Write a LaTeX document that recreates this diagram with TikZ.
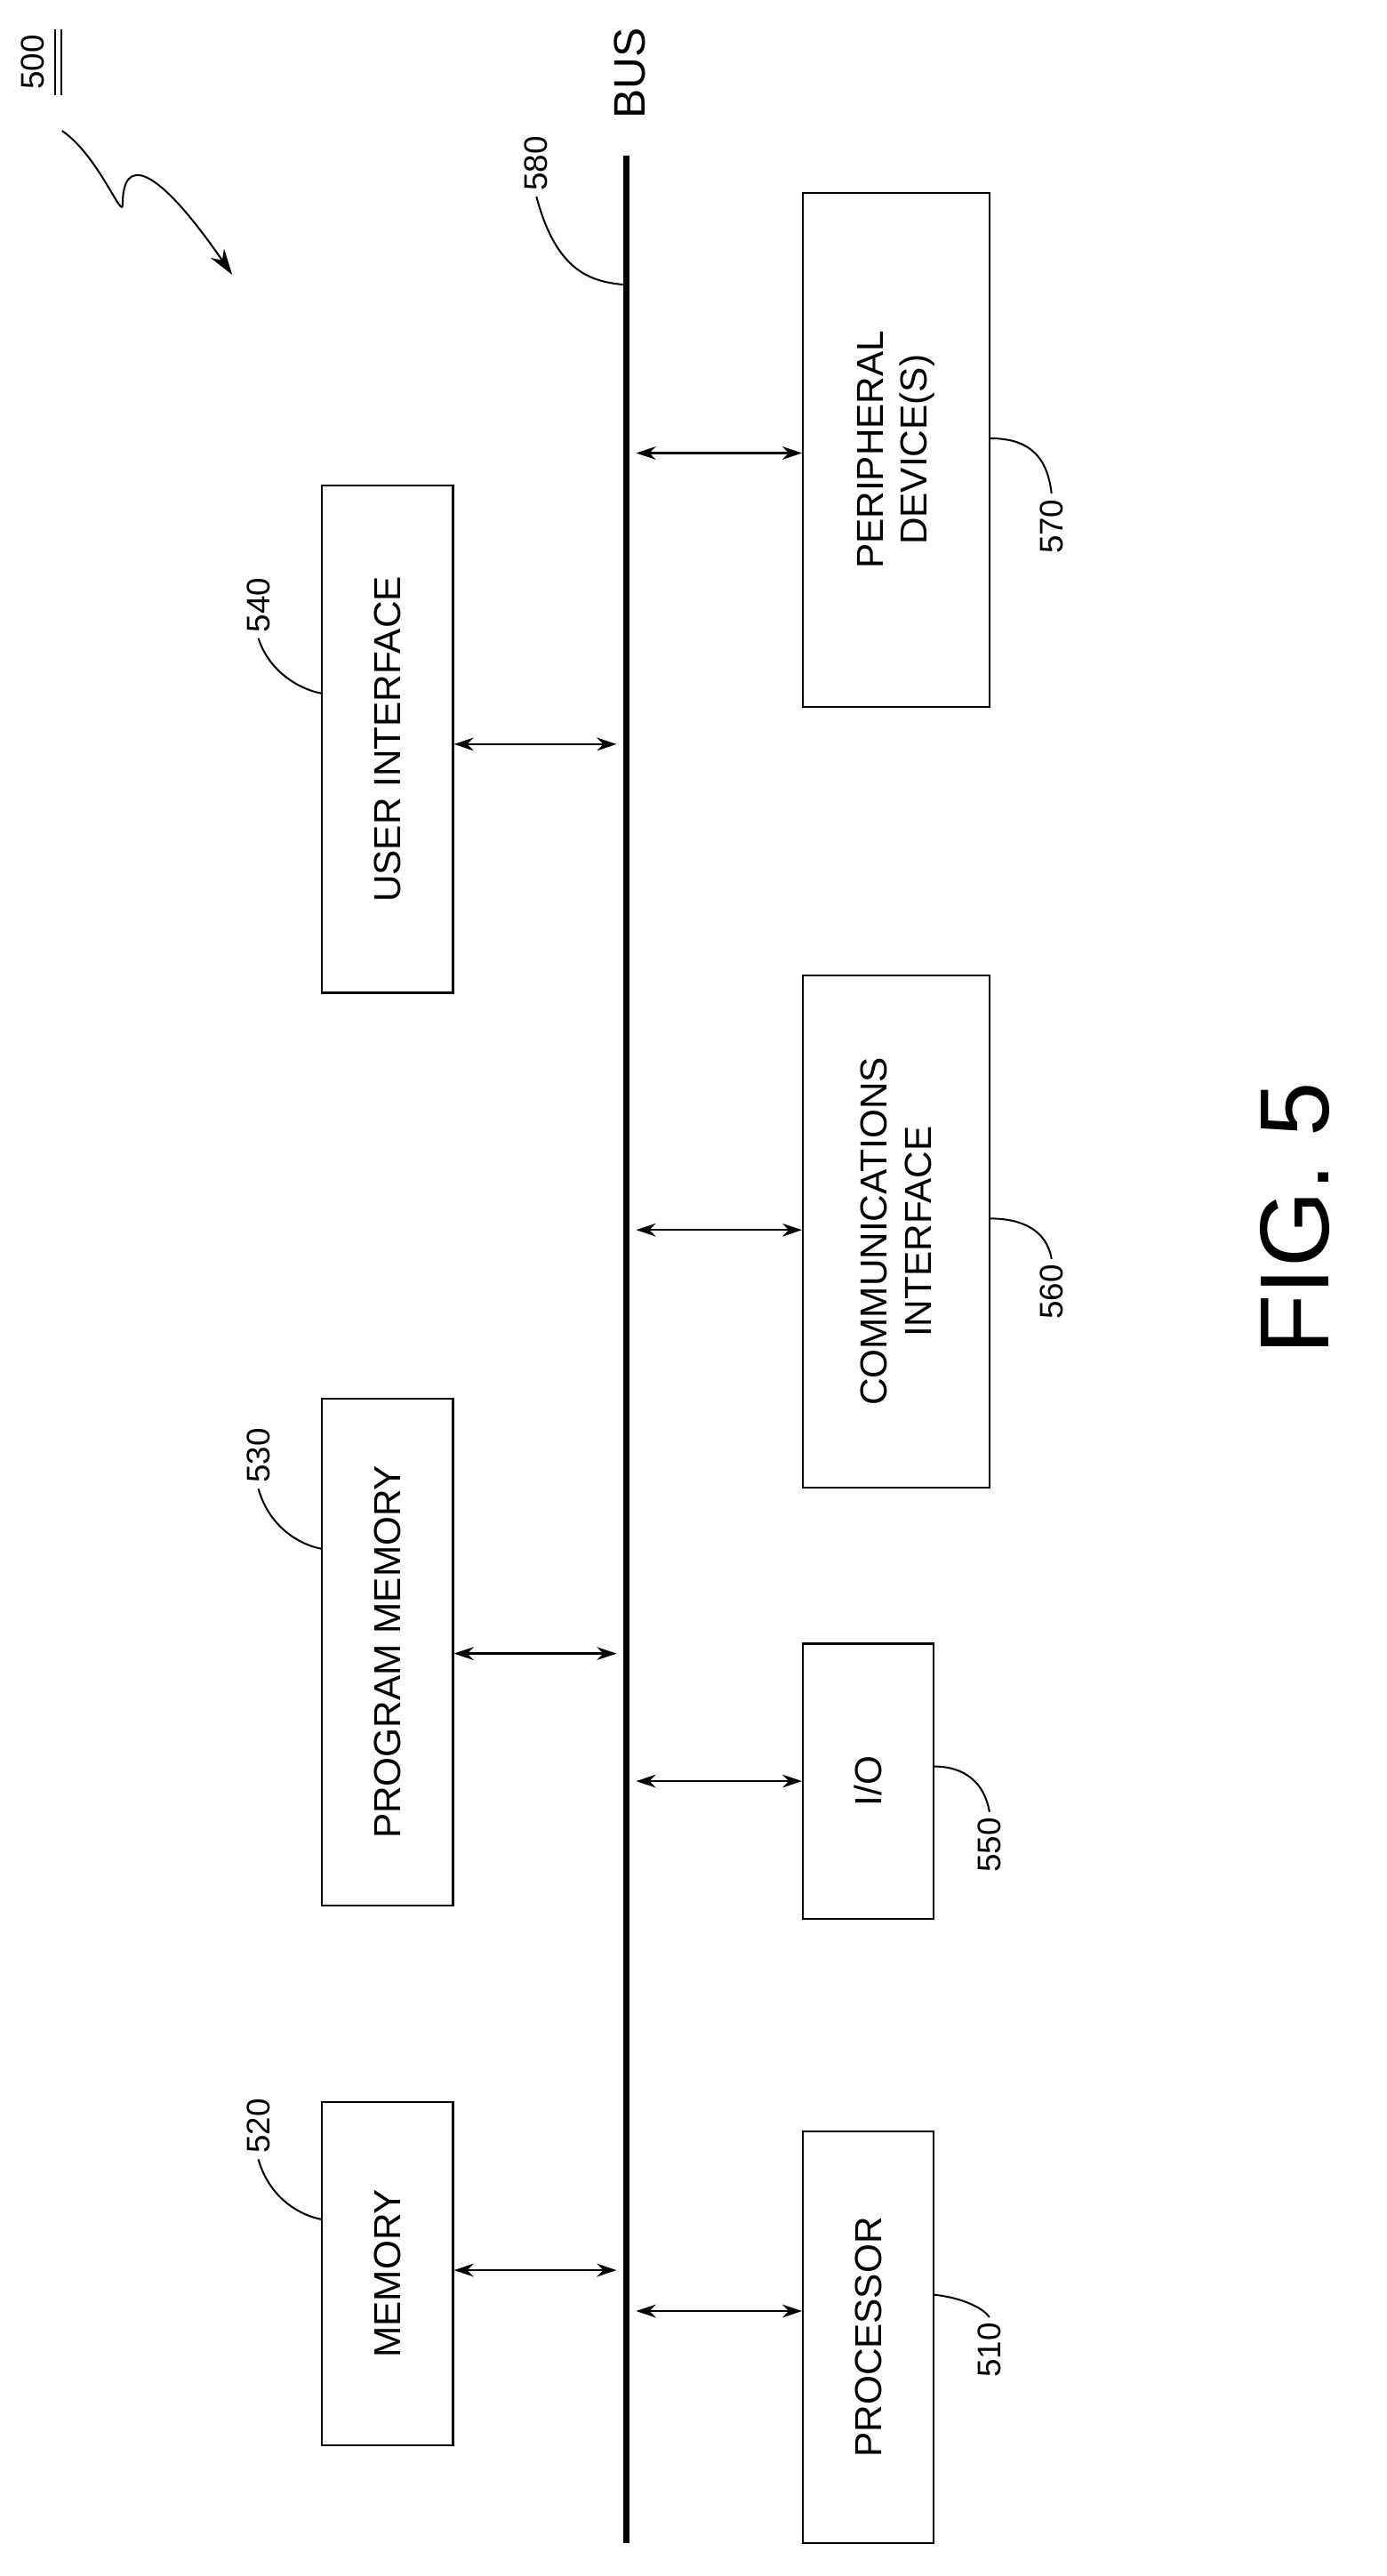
\documentclass[tikz,border=0pt]{standalone}
\usepackage{fontspec}
\setmainfont{Liberation Sans}
\usetikzlibrary{arrows.meta}
\begin{document}
\begin{tikzpicture}[x=1pt,y=-1pt,
 box/.style={draw,line width=1.2pt,inner sep=0pt},
 txt/.style={rotate=90,font=\fontsize{23}{27}\selectfont,align=center},
 num/.style={rotate=90,font=\fontsize{20}{23}\selectfont},
 arr/.style={{Stealth[length=12pt,width=8pt]}-{Stealth[length=12pt,width=8pt]},line width=1.3pt},
 lead/.style={line width=1.1pt}]
\useasboundingbox (0,0) rectangle (848,1575);
% bus
\coordinate (bt) at (383,95); \coordinate (bb) at (383,1555);
\draw[line width=3.5pt] (bt) -- (bb);
\node[rotate=90,font=\fontsize{27}{30}\selectfont,anchor=center] (bus) at (385,45) {BUS};
% boxes
\node[box,minimum width=80pt,minimum height=210pt] (mem) at (237,1390) {};
\node[txt] at (mem) {MEMORY};
\node[box,minimum width=80pt,minimum height=310pt] (pm) at (237,1010) {};
\node[txt] at (pm) {PROGRAM MEMORY};
\node[box,minimum width=80pt,minimum height=310pt] (ui) at (237,452) {};
\node[txt] at (ui) {USER INTERFACE};
\node[box,minimum width=80pt,minimum height=252pt] (proc) at (531,1429) {};
\node[txt] at (proc) {PROCESSOR};
\node[box,minimum width=80pt,minimum height=168pt] (io) at (531,1089) {};
\node[txt] at (io) {I/O};
\node[box,minimum width=114pt,minimum height=313pt] (comm) at (548,753) {};
\node[txt] at (comm) {COMMUNICATIONS\\INTERFACE};
\node[box,minimum width=114pt,minimum height=314pt] (per) at (548,275) {};
\node[txt] at (per) {PERIPHERAL\\DEVICE(S)};
% arrows
\draw[arr] (mem.east |- 0,1388) -- (377,1388);
\draw[arr] (pm.east |- 0,1011) -- (377,1011);
\draw[arr] (ui.east |- 0,455) -- (377,455);
\draw[arr] (389,1413) -- (proc.west |- 0,1413);
\draw[arr] (389,1089) -- (io.west |- 0,1089);
\draw[arr] (389,752) -- (comm.west |- 0,752);
\draw[arr] (389,277) -- (per.west |- 0,277);
% labels
\node[num] (l580) at (328,100) {580};
\draw[lead] (l580.west) .. controls (340,165) and (360,172) .. (381,174);
\node[num] (l520) at (158,1300) {520};
\draw[lead] (l520.west) .. controls (165,1345) and (185,1355) .. (197,1357);
\node[num] (l530) at (158,890) {530};
\draw[lead] (l530.west) .. controls (165,935) and (185,945) .. (197,947);
\node[num] (l540) at (158,370) {540};
\draw[lead] (l540.west) .. controls (165,412) and (185,422) .. (197,424);
\node[num] (l510) at (605,1437) {510};
\draw[lead] (571,1403) .. controls (590,1405) and (602,1412) .. (l510.east);
\node[num] (l550) at (605,1128) {550};
\draw[lead] (571,1080) .. controls (590,1080) and (602,1090) .. (l550.east);
\node[num] (l560) at (643,790) {560};
\draw[lead] (605,745) .. controls (625,745) and (640,752) .. (l560.east);
\node[num] (l570) at (643,322) {570};
\draw[lead] (605,268) .. controls (625,268) and (640,275) .. (l570.east);
% 500
\node[num] (l500) at (20,38) {500};
\draw[line width=0.9pt] ([xshift=3pt]l500.south east) -- ([xshift=3pt]l500.south west);
\draw[line width=0.9pt] ([xshift=7pt]l500.south east) -- ([xshift=7pt]l500.south west);
\coordinate (s500) at (38,80);
\coordinate (e500) at (142,168);
\draw[line width=1.1pt,-{Stealth[length=16pt,width=10pt]}] (s500) .. controls (60,95) and (75,135) .. (75,125) .. controls (75,95) and (95,100) .. (e500);
% fig
\node[rotate=90,font=\fontsize{60}{66}\selectfont] (fig) at (792,745) {FIG. 5};
\end{tikzpicture}
\end{document}
